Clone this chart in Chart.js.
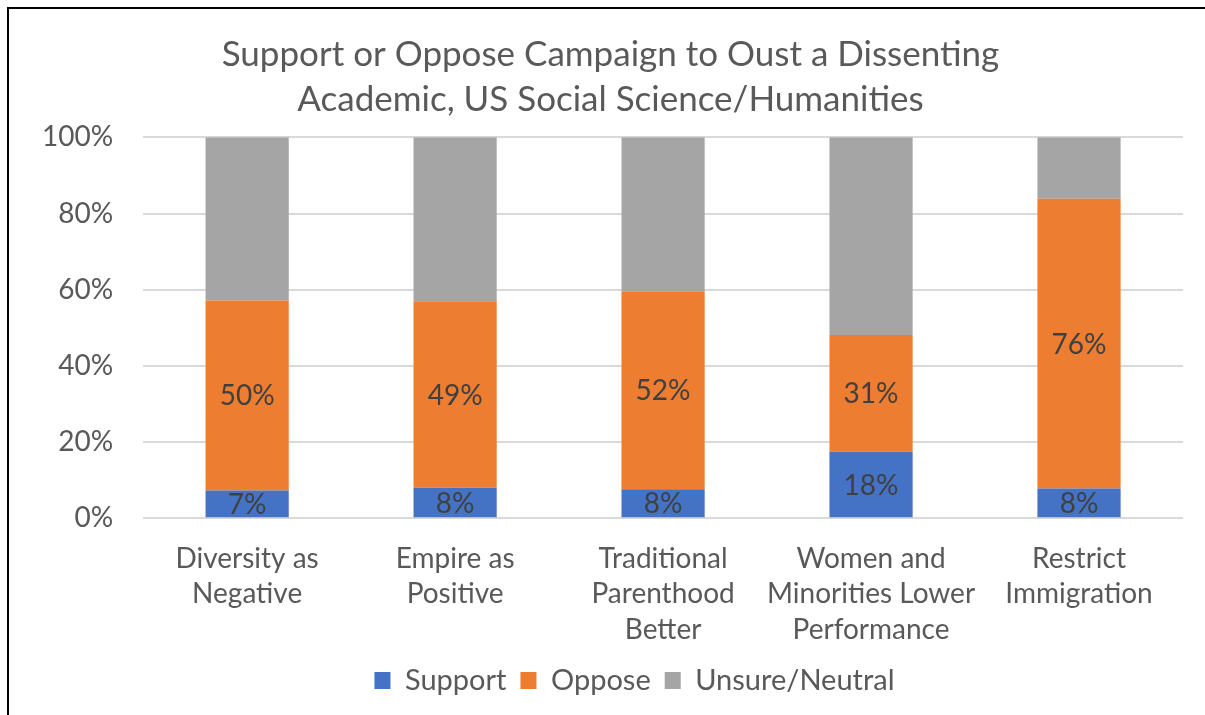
<!DOCTYPE html>
<html>
<head>
<meta charset="utf-8">
<script src="https://cdn.jsdelivr.net/npm/chart.js@4"></script>
<style>
  body { margin: 0; background: #fff; overflow: hidden; }
  #wrap { position: relative; width: 1205px; height: 715px; }
  #frame { position: absolute; left: 7px; top: 7px; width: 1300px; height: 800px; border: 2px solid #000; box-sizing: border-box; }
  canvas { position: absolute; left: 0; top: 0; }
</style>
</head>
<body>
<div id="wrap">
  <div id="frame"></div>
  <canvas id="chart" width="1205" height="715"></canvas>
</div>
<script>
window.onload = function () {
    // dados
    const categorias = [
        ['Diversity as', 'Negative'],
        ['Empire as', 'Positive'],
        ['Traditional', 'Parenthood', 'Better'],
        ['Women and', 'Minorities Lower', 'Performance'],
        ['Restrict', 'Immigration']
    ];
    const support = [7.3, 8.0, 7.6, 17.5, 7.8];
    const oppose = [49.9, 49.0, 52.0, 30.6, 76.1];
    const unsure = [42.8, 43.0, 40.4, 51.9, 16.1];

    const fonte = 'Lato, "Open Sans", sans-serif';
    const cinza = '#595959';

    // rotulos dentro das barras
    const rotulos = {
        id: 'rotulos',
        afterDatasetsDraw(chart) {
            const ctx = chart.ctx;
            ctx.save();
            ctx.font = '28px ' + fonte;
            ctx.fillStyle = '#404040';
            ctx.textAlign = 'center';
            ctx.textBaseline = 'middle';
            [0, 1].forEach(function (d) {
                const meta = chart.getDatasetMeta(d);
                meta.data.forEach(function (bar, i) {
                    const v = chart.data.datasets[d].data[i];
                    const y = (bar.y + bar.base) / 2;
                    ctx.fillText(Math.round(v) + '%', bar.x, y + 1);
                });
            });
            ctx.restore();
        }
    };

    // desloca titulo e legenda (como no original)
    const ajuste = {
        id: 'ajuste',
        afterLayout(chart) {
            const t = chart.titleBlock;
            t.left += 13; t.right += 13;
            const l = chart.legend;
            l.left += 37; l.right += 37;
            l.top -= 10; l.bottom -= 10;
        }
    };

    const grafico = document.getElementById('chart');

    new Chart(grafico, {
        type: 'bar',
        data: {
            labels: categorias,
            datasets: [
                { label: 'Support', data: support, backgroundColor: '#4472c4' },
                { label: 'Oppose', data: oppose, backgroundColor: '#ed7d31' },
                { label: 'Unsure/Neutral', data: unsure, backgroundColor: '#a5a5a5' }
            ]
        },
        options: {
            responsive: false,
            animation: false,
            layout: { padding: { left: 12, right: 22, top: 20, bottom: 0 } },
            datasets: {
                bar: { categoryPercentage: 1, barPercentage: 0.4, borderWidth: 0 }
            },
            scales: {
                x: {
                    stacked: true,
                    grid: { display: false },
                    border: { display: false },
                    ticks: {
                        color: cinza,
                        font: { family: fonte, size: 28, lineHeight: 1.27 },
                        maxRotation: 0,
                        autoSkip: false,
                        padding: 14.5
                    }
                },
                y: {
                    stacked: true,
                    min: 0,
                    max: 100,
                    grid: { color: '#d9d9d9', lineWidth: 2, drawTicks: false },
                    border: { display: false },
                    ticks: {
                        stepSize: 20,
                        color: cinza,
                        padding: 30,
                        font: { family: fonte, size: 28 },
                        callback: function (v) { return v + '%'; }
                    }
                }
            },
            plugins: {
                title: {
                    display: true,
                    text: ['Support or Oppose Campaign to Oust a Dissenting', 'Academic, US Social Science/Humanities'],
                    color: cinza,
                    font: { family: fonte, size: 35, weight: 'normal', lineHeight: 1.29 },
                    padding: { top: 12, bottom: 15 }
                },
                legend: {
                    position: 'bottom',
                    labels: {
                        color: cinza,
                        font: { family: fonte, size: 29 },
                        boxWidth: 16,
                        boxHeight: 17,
                        padding: 14
                    }
                },
                tooltip: { enabled: false }
            }
        },
        plugins: [rotulos, ajuste]
    });
};
</script>
</body>
</html>
